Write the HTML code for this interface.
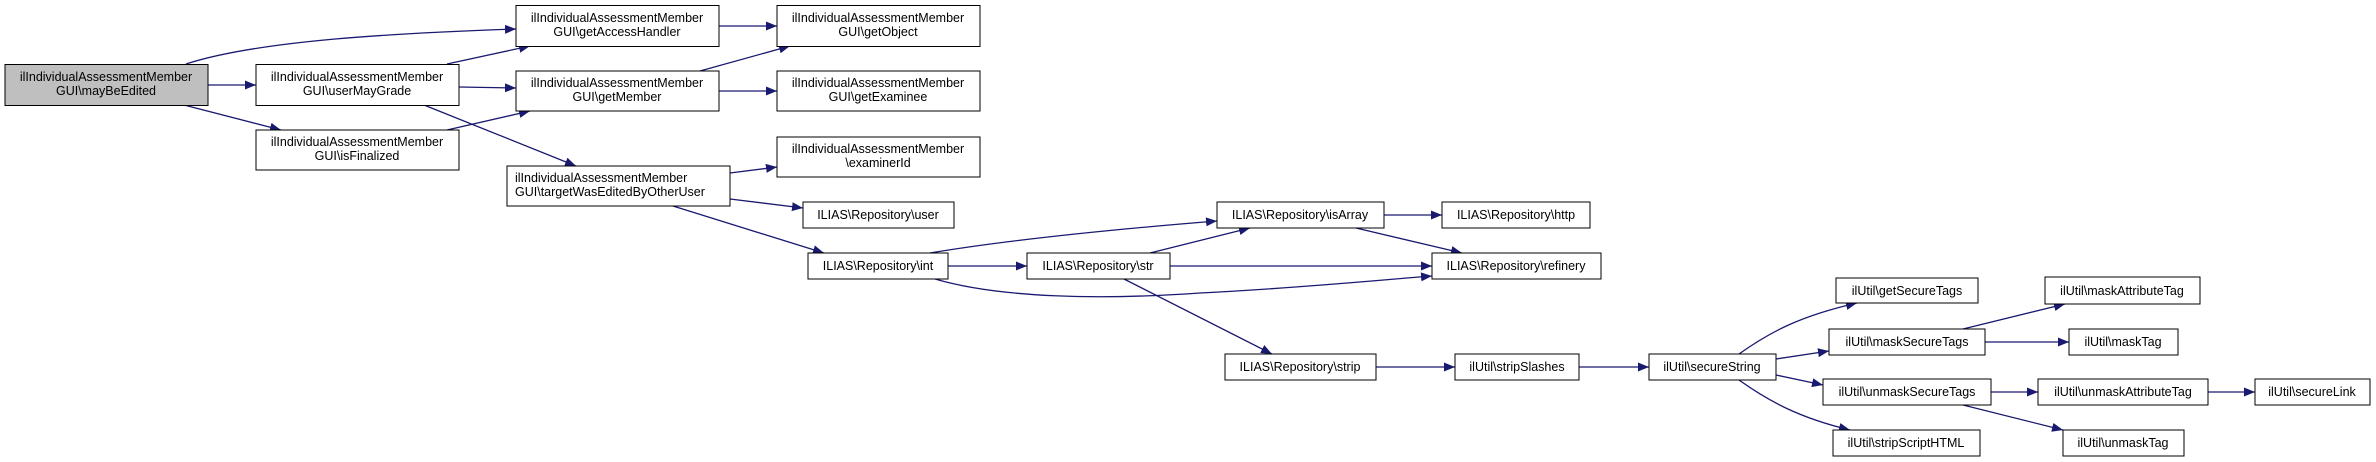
<!DOCTYPE html>
<html><head><meta charset="utf-8"><style>html,body{margin:0;padding:0;background:#fff}svg{display:block}text{font-family:"Liberation Sans",Arial,sans-serif;font-size:12.5px;fill:#000}</style></head>
<body>
<svg width="2376" height="462" viewBox="0 0 2376 462" xmlns="http://www.w3.org/2000/svg">
<defs><marker id="a" markerUnits="userSpaceOnUse" markerWidth="12" markerHeight="10" refX="11" refY="4.5" orient="auto"><path d="M0,0 L11,4.5 L0,9 Z" fill="#191970"/></marker></defs>
<g fill="none" stroke="#191970" stroke-width="1.3" marker-end="url(#a)">
<path d="M186,64 C260,40 400,33 516,29"/>
<path d="M208,85 L256,85"/>
<path d="M184,105 L281,130"/>
<path d="M447,64 L530,46"/>
<path d="M459,87 L516,88"/>
<path d="M424,105 L576,166"/>
<path d="M447,130 L530,111"/>
<path d="M719,26 L777,26"/>
<path d="M700,71 L790,46"/>
<path d="M719,91 L777,91"/>
<path d="M730,173 L777,167"/>
<path d="M730,199 L803,208"/>
<path d="M673,206 L824,253"/>
<path d="M930,253 C1020,238 1130,228 1217,221"/>
<path d="M948,266 L1027,266"/>
<path d="M935,279 C1000,298 1100,300 1200,293 C1300,288 1380,280 1432,276"/>
<path d="M1150,253 L1250,228"/>
<path d="M1170,266 L1432,266"/>
<path d="M1124,279 L1272,354"/>
<path d="M1384,215 L1442,215"/>
<path d="M1356,228 L1462,253"/>
<path d="M1376,367 L1455,367"/>
<path d="M1579,367 L1649,367"/>
<path d="M1739,354 C1770,332 1800,316 1857,303"/>
<path d="M1776,359 L1829,351"/>
<path d="M1776,375 L1823,385"/>
<path d="M1739,380 C1770,402 1800,418 1850,430"/>
<path d="M1963,329 L2065,304"/>
<path d="M1985,342 L2069,342"/>
<path d="M1991,392 L2038,392"/>
<path d="M1963,405 L2063,430"/>
<path d="M2208,392 L2255,392"/>
</g>
<g stroke="#000" stroke-width="1" fill="#fff">
<rect x="5" y="64.5" width="203" height="41" fill="#bfbfbf"/>
<rect x="256" y="64.5" width="203" height="41"/>
<rect x="256" y="130" width="203" height="40"/>
<rect x="516" y="5.5" width="203" height="41"/>
<rect x="516" y="71" width="203" height="40"/>
<rect x="507" y="166" width="223" height="40"/>
<rect x="777" y="5.5" width="203" height="41"/>
<rect x="777" y="71" width="203" height="40"/>
<rect x="777" y="137" width="203" height="40"/>
<rect x="803" y="202" width="151" height="26"/>
<rect x="808" y="253" width="140" height="26"/>
<rect x="1027" y="253" width="143" height="26"/>
<rect x="1217" y="202" width="167" height="26"/>
<rect x="1442" y="202" width="148" height="26"/>
<rect x="1432" y="253" width="169" height="26"/>
<rect x="1225" y="354" width="151" height="26"/>
<rect x="1455" y="354" width="124" height="26"/>
<rect x="1649" y="354" width="127" height="26"/>
<rect x="1836" y="278" width="142" height="25"/>
<rect x="1829" y="329" width="156" height="26"/>
<rect x="1823" y="379" width="168" height="26"/>
<rect x="1833" y="430" width="147" height="26"/>
<rect x="2045" y="277" width="155" height="27"/>
<rect x="2069" y="329" width="109" height="26"/>
<rect x="2038" y="379" width="170" height="26"/>
<rect x="2063" y="430" width="121" height="26"/>
<rect x="2255" y="379" width="115" height="26"/>
</g>
<g text-anchor="middle">
<text x="106" y="81">ilIndividualAssessmentMember</text><text x="106" y="95">GUI\mayBeEdited</text>
<text x="357" y="81">ilIndividualAssessmentMember</text><text x="357" y="95">GUI\userMayGrade</text>
<text x="357" y="146">ilIndividualAssessmentMember</text><text x="357" y="160">GUI\isFinalized</text>
<text x="617" y="22">ilIndividualAssessmentMember</text><text x="617" y="36">GUI\getAccessHandler</text>
<text x="617" y="87">ilIndividualAssessmentMember</text><text x="617" y="101">GUI\getMember</text>
<text x="878" y="22">ilIndividualAssessmentMember</text><text x="878" y="36">GUI\getObject</text>
<text x="878" y="87">ilIndividualAssessmentMember</text><text x="878" y="101">GUI\getExaminee</text>
<text x="878" y="153">ilIndividualAssessmentMember</text><text x="878" y="167">\examinerId</text>
<text x="878" y="219">ILIAS\Repository\user</text>
<text x="878" y="270">ILIAS\Repository\int</text>
<text x="1098" y="270">ILIAS\Repository\str</text>
<text x="1300" y="219">ILIAS\Repository\isArray</text>
<text x="1516" y="219">ILIAS\Repository\http</text>
<text x="1516" y="270">ILIAS\Repository\refinery</text>
<text x="1300" y="371">ILIAS\Repository\strip</text>
<text x="1517" y="371">ilUtil\stripSlashes</text>
<text x="1712" y="371">ilUtil\secureString</text>
<text x="1907" y="295">ilUtil\getSecureTags</text>
<text x="1907" y="346">ilUtil\maskSecureTags</text>
<text x="1907" y="396">ilUtil\unmaskSecureTags</text>
<text x="1906" y="447">ilUtil\stripScriptHTML</text>
<text x="2122" y="295">ilUtil\maskAttributeTag</text>
<text x="2123" y="346">ilUtil\maskTag</text>
<text x="2123" y="396">ilUtil\unmaskAttributeTag</text>
<text x="2123" y="447">ilUtil\unmaskTag</text>
<text x="2312" y="396">ilUtil\secureLink</text>
</g>
<text x="515" y="182">ilIndividualAssessmentMember</text><text x="515" y="196">GUI\targetWasEditedByOtherUser</text>
</svg>
</body></html>
